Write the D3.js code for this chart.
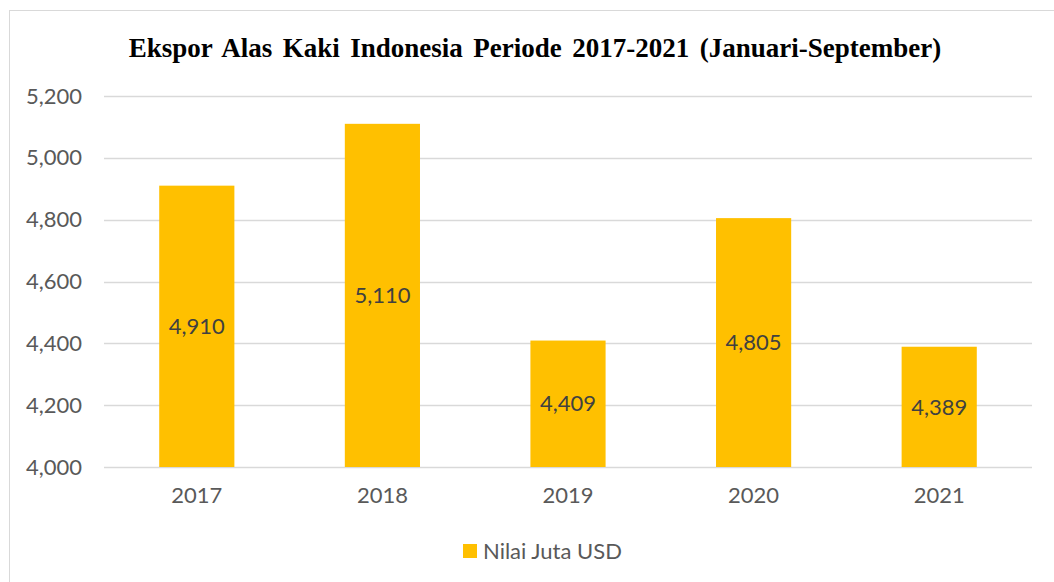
<!DOCTYPE html>
<html>
<head>
<meta charset="utf-8">
<script src="https://cdn.jsdelivr.net/npm/d3@7"></script>
<style>
  body { margin: 0; background: #fff; }
</style>
</head>
<body>
<div class="chart"></div>
<script>
var years = [`2017`, `2018`, `2019`, `2020`, `2021`];
var values = [4910, 5110, 4409, 4805, 4389];
var yTicks = [4000, 4200, 4400, 4600, 4800, 5000, 5200];
var seriesName = `Nilai Juta USD`;

var fullWidth = 1054, fullHeight = 582;
var margin = {top: 96, bottom: 115, left: 104, right: 22};
var width = fullWidth - margin.left - margin.right;
var height = fullHeight - margin.top - margin.bottom;
var labelFont = `Lato, "Open Sans", sans-serif`;

var svg = d3.select(`.chart`)
    .append(`svg`)
    .attr(`width`, fullWidth)
    .attr(`height`, fullHeight);

// chart area border (runs off the right and bottom edges)
svg.append(`rect`)
    .attr(`x`, 9.5).attr(`y`, 10.5)
    .attr(`width`, 1100).attr(`height`, 700)
    .attr(`fill`, `none`)
    .attr(`stroke`, `#d9d9d9`)
    .attr(`stroke-width`, 1);

var title = svg.append(`text`)
    .attr(`x`, 535).attr(`y`, 57)
    .attr(`text-anchor`, `middle`)
    .style(`font-family`, `"Liberation Serif", "Times New Roman", serif`)
    .style(`font-weight`, `bold`)
    .style(`font-size`, `27px`)
    .style(`fill`, `#000`)
    .text(`Ekspor Alas Kaki Indonesia Periode 2017-2021 (Januari-September)`);

// stretch word gaps so the title spans about 820px like the original
var natural = title.node().getComputedTextLength();
title.style(`word-spacing`, `${(820 - natural) / 8}px`);

var g = svg.append(`g`)
    .attr(`transform`, `translate(${margin.left},${margin.top})`);

var yScale = d3.scaleLinear()
    .domain([4000, 5200])
    .range([height, 0]);

var xScale = d3.scaleBand()
    .domain(years)
    .range([0, width])
    .padding(0);

var barWidth = xScale.bandwidth() * 0.405;

// gridlines
g.selectAll(`.grid`)
    .data(yTicks)
    .enter()
    .append(`line`)
    .attr(`x1`, 0).attr(`x2`, width)
    .attr(`y1`, d => Math.round(yScale(d)) + 0.5)
    .attr(`y2`, d => Math.round(yScale(d)) + 0.5)
    .attr(`stroke`, `#d9d9d9`)
    .attr(`stroke-width`, 1.5);

var yAxis = d3.axisLeft(yScale)
    .tickValues(yTicks)
    .tickFormat(d3.format(`,`))
    .tickSize(0)
    .tickPadding(22);

g.append(`g`)
    .call(yAxis)
    .call(s => s.select(`.domain`).remove())
    .selectAll(`text`)
    .style(`font-family`, labelFont)
    .style(`font-size`, `22px`)
    .style(`fill`, `#595959`);

var xAxis = d3.axisBottom(xScale)
    .tickSize(0)
    .tickPadding(20);

g.append(`g`)
    .attr(`transform`, `translate(0, ${height})`)
    .call(xAxis)
    .call(s => s.select(`.domain`).remove())
    .selectAll(`text`)
    .style(`font-family`, labelFont)
    .style(`font-size`, `22px`)
    .style(`fill`, `#595959`);

g.selectAll(`.bar`)
    .data(values)
    .enter()
    .append(`rect`)
    .attr(`class`, `bar`)
    .attr(`x`, (d, i) => xScale(years[i]) + (xScale.bandwidth() - barWidth) / 2)
    .attr(`width`, barWidth)
    .attr(`y`, d => yScale(d))
    .attr(`height`, d => height - yScale(d))
    .style(`fill`, `#ffc000`);

g.selectAll(`.label`)
    .data(values)
    .enter()
    .append(`text`)
    .attr(`x`, (d, i) => xScale(years[i]) + xScale.bandwidth() / 2)
    .attr(`y`, d => (yScale(d) + height) / 2)
    .attr(`dy`, `0.35em`)
    .attr(`text-anchor`, `middle`)
    .style(`font-family`, labelFont)
    .style(`font-size`, `22px`)
    .style(`fill`, `#404040`)
    .text(d => d3.format(`,`)(d));

// legend
var legend = svg.append(`g`)
    .attr(`transform`, `translate(463, 551)`);

legend.append(`rect`)
    .attr(`x`, 0).attr(`y`, -7)
    .attr(`width`, 14).attr(`height`, 14)
    .style(`fill`, `#ffc000`);

legend.append(`text`)
    .attr(`x`, 20).attr(`y`, 0)
    .attr(`dy`, `0.35em`)
    .style(`font-family`, labelFont)
    .style(`font-size`, `22px`)
    .style(`fill`, `#595959`)
    .text(seriesName);
</script>
</body>
</html>
